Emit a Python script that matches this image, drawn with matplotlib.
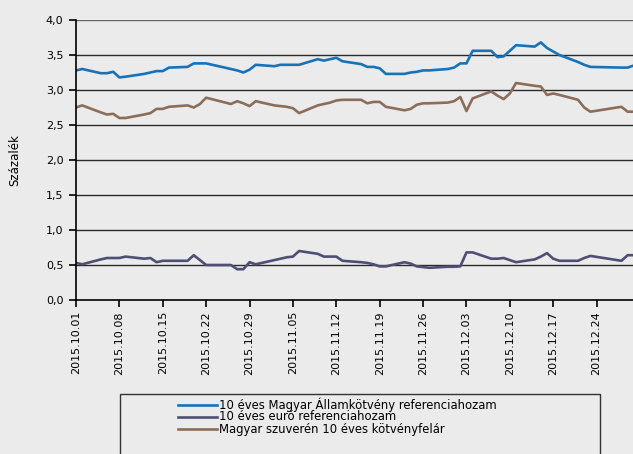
import numpy as np
import pandas as pd
import matplotlib
matplotlib.use("Agg")
import matplotlib.pyplot as plt
import matplotlib.dates as mdates
from matplotlib.patches import Rectangle
from matplotlib.lines import Line2D

dates = ["2015-10-01", "2015-10-02", "2015-10-05", "2015-10-06", "2015-10-07", "2015-10-08", "2015-10-09",
         "2015-10-12", "2015-10-13", "2015-10-14", "2015-10-15", "2015-10-16",
         "2015-10-19", "2015-10-20", "2015-10-21", "2015-10-22",
         "2015-10-26", "2015-10-27", "2015-10-28", "2015-10-29", "2015-10-30",
         "2015-11-02", "2015-11-03", "2015-11-04", "2015-11-05", "2015-11-06",
         "2015-11-09", "2015-11-10", "2015-11-11", "2015-11-12", "2015-11-13",
         "2015-11-16", "2015-11-17", "2015-11-18", "2015-11-19", "2015-11-20",
         "2015-11-23", "2015-11-24", "2015-11-25", "2015-11-26", "2015-11-27",
         "2015-11-30", "2015-12-01", "2015-12-02", "2015-12-03", "2015-12-04",
         "2015-12-07", "2015-12-08", "2015-12-09", "2015-12-10", "2015-12-11",
         "2015-12-14", "2015-12-15", "2015-12-16", "2015-12-17", "2015-12-18",
         "2015-12-21", "2015-12-22", "2015-12-23",
         "2015-12-28", "2015-12-29", "2015-12-30"]

huf_10y = [3.28, 3.30, 3.24, 3.24, 3.26, 3.18, 3.19,
           3.23, 3.25, 3.27, 3.27, 3.32,
           3.33, 3.38, 3.38, 3.38,
           3.30, 3.28, 3.25, 3.29, 3.36,
           3.34, 3.36, 3.36, 3.36, 3.36,
           3.44, 3.42, 3.44, 3.46, 3.41,
           3.37, 3.33, 3.33, 3.31, 3.23,
           3.23, 3.25, 3.26, 3.28, 3.28,
           3.30, 3.32, 3.38, 3.38, 3.56,
           3.56, 3.47, 3.48, 3.56, 3.64,
           3.62, 3.68, 3.60, 3.55, 3.50,
           3.40, 3.36, 3.33,
           3.32, 3.32, 3.35]

eur_10y = [0.53, 0.51, 0.58, 0.60, 0.60, 0.60, 0.62,
           0.59, 0.60, 0.54, 0.56, 0.56,
           0.56, 0.64, 0.57, 0.50,
           0.50, 0.44, 0.44, 0.54, 0.51,
           0.57, 0.59, 0.61, 0.62, 0.70,
           0.66, 0.62, 0.62, 0.62, 0.56,
           0.54, 0.53, 0.51, 0.48, 0.48,
           0.54, 0.52, 0.48, 0.47, 0.46,
           0.475, 0.475, 0.48, 0.68, 0.68,
           0.59, 0.59, 0.60, 0.57, 0.54,
           0.58, 0.62, 0.67, 0.59, 0.56,
           0.56, 0.60, 0.63,
           0.56, 0.64, 0.64]

spread = [2.75, 2.78, 2.68, 2.65, 2.66, 2.60, 2.60,
          2.65, 2.67, 2.73, 2.73, 2.76,
          2.78, 2.75, 2.80, 2.89,
          2.80, 2.84, 2.81, 2.77, 2.84,
          2.78, 2.77, 2.76, 2.74, 2.67,
          2.78, 2.80, 2.82, 2.85, 2.86,
          2.86, 2.81, 2.83, 2.83, 2.76,
          2.71, 2.73, 2.79, 2.81, 2.81,
          2.82, 2.84, 2.90, 2.70, 2.88,
          2.98, 2.92, 2.87, 2.95, 3.10,
          3.06, 3.05, 2.93, 2.95, 2.93,
          2.86, 2.75, 2.69,
          2.76, 2.69, 2.69]

labels = ["10 éves Magyar Államkötvény referenciahozam",
          "10 éves euró referenciahozam",
          "Magyar szuverén 10 éves kötvényfelár"]
colors = ["#1872B8", "#4F4E74", "#8A6E5A"]

x = pd.to_datetime(dates)
bg = "#EBEBEB"

W, H = 633, 454
fig = plt.figure(figsize=(W / 100, H / 100), dpi=100, facecolor=bg)
# plot area in pixels: left 76, top 20, bottom 300, right edge runs past the figure
ax = fig.add_axes([76 / W, (H - 300) / H, 564 / W, 280 / H], facecolor=bg)

for vals, lab, col in zip([huf_10y, eur_10y, spread], labels, colors):
    ax.plot(x, vals, color=col, lw=1.9, label=lab, solid_joinstyle="round")

ax.set_ylim(0, 4)
ax.set_xlim(pd.Timestamp("2015-10-01"), pd.Timestamp("2015-12-31"))
ax.set_yticks(np.arange(0, 4.01, 0.5))
ax.set_yticklabels([f"{v:.1f}".replace(".", ",") for v in np.arange(0, 4.01, 0.5)])
for v in np.arange(0.5, 4.01, 0.5):
    ax.axhline(v, color="#666666" if v == 4.0 else "#2a2a2a", lw=1.0, zorder=0.5)

ticks = pd.date_range("2015-10-01", "2015-12-24", freq="7D")
ax.set_xticks(ticks)
ax.xaxis.set_major_formatter(mdates.DateFormatter("%Y.%m.%d"))
plt.setp(ax.get_xticklabels(), rotation=90)

for s in ["top", "right"]:
    ax.spines[s].set_visible(False)
for s in ["left", "bottom"]:
    ax.spines[s].set_color("black")
    ax.spines[s].set_linewidth(1.2)
ax.tick_params(axis="both", direction="out", length=5, width=1.2, color="black",
               labelsize=8, labelcolor="black")
ax.tick_params(axis="y", pad=4)
ax.tick_params(axis="x", pad=3)

fig.text(15 / W, 1 - 160 / H, "Százalék", rotation=90, ha="center", va="center", fontsize=8.5)

# legend box, cut by the bottom edge
fig.patches.append(Rectangle((120 / W, -0.05), 480 / W, 0.05 + (454 - 394) / H,
                             transform=fig.transFigure, fill=False, ec="#333333", lw=1.0))
row_y = [404.5, 416.8, 429]
for yy, lab, col in zip(row_y, labels, colors):
    fig.lines.append(Line2D([178 / W, 217 / W], [1 - yy / H, 1 - yy / H], transform=fig.transFigure,
                            color=col, lw=1.9))
    fig.text(219 / W, 1 - yy / H, lab, ha="left", va="center", fontsize=8.4)

fig.savefig("out.png", dpi=100, facecolor=bg)
